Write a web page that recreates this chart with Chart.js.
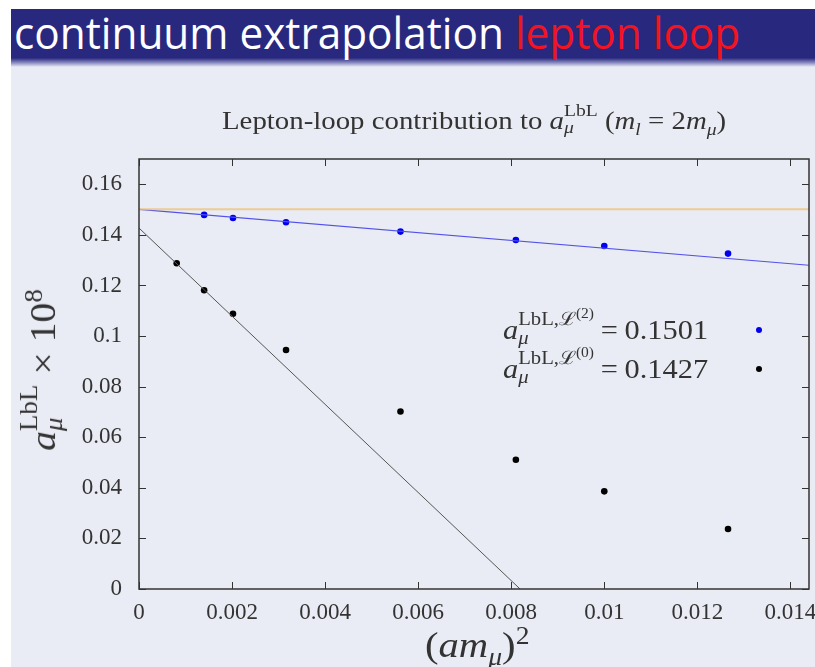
<!DOCTYPE html>
<html>
<head>
<meta charset="utf-8">
<script src="https://cdn.jsdelivr.net/npm/chart.js@4.4.0/dist/chart.umd.min.js"></script>
<style>
body { margin: 0; width: 815px; height: 667px; background: #fff; position: relative; overflow: hidden; }
#page { position: absolute; left: 11px; top: 9px; width: 804px; height: 658px; background: #e9ecf4; }
#bar { position: absolute; left: 11px; top: 9px; width: 804px; height: 58px;
       background: linear-gradient(to bottom, #29287f 0px, #29287f 49px, #8f90c4 54px, #e9ecf4 58px); }
#barText { position: absolute; left: 3px; top: -7px; font-family: "Open Sans", "DejaVu Sans", sans-serif;
           font-size: 44px; color: #fff; white-space: nowrap; transform-origin: 0 0; }
#barText .red { color: #f21420; }
canvas { position: absolute; left: 0; top: 0; }
.tex { position: absolute; font-family: "Liberation Serif", "DejaVu Serif", serif; color: #333; white-space: nowrap; transform-origin: 0 0; }
.ss { display: inline-block; vertical-align: -0.27em; line-height: 1.02; font-size: 0.68em; text-align: left; }
.ss span { display: block; }
.eq { margin: 0 0.22em; }
#ctitle { font-size: 25px; left: 222px; top: 102px; }
#ylab { font-size: 36px; left: 42px; top: 370px; transform-origin: 50% 50%; }
#xlab { font-size: 36px; left: 425px; top: 622px; }
.leg { font-size: 27px; }
.dot { position: absolute; width: 6px; height: 6px; border-radius: 50%; }
</style>
</head>
<body>
<div id="page"></div>
<div id="bar"><div id="barText">continuum extrapolation <span class="red">lepton loop</span></div></div>
<canvas id="chart" width="815" height="667"></canvas>
<div class="tex" id="ctitle">Lepton-loop contribution to <i>a</i><span class="ss"><span>LbL</span><span><i>μ</i></span></span> (<i>m<sub style="font-size:0.68em">l</sub></i> = 2<i>m</i><sub style="font-size:0.68em"><i>μ</i></sub>)</div>
<div class="tex" id="ylab"><i>a</i><span class="ss"><span>LbL</span><span><i>μ</i></span></span> × 10<sup style="font-size:0.68em">8</sup></div>
<div class="tex" id="xlab">(<i>am</i><sub style="font-size:0.68em"><i>μ</i></sub>)<sup style="font-size:0.68em">2</sup></div>
<div class="tex leg" id="leg2" style="left:503px; top:307px;"><i>a</i><span class="ss"><span>LbL,ℒ<sup style="font-size:0.75em">(2)</sup></span><span><i>μ</i></span></span><span class="eq">=</span>0.1501</div>
<div class="tex leg" id="leg0" style="left:503px; top:346px;"><i>a</i><span class="ss"><span>LbL,ℒ<sup style="font-size:0.75em">(0)</sup></span><span><i>μ</i></span></span><span class="eq">=</span>0.1427</div>
<div class="dot" style="left:756px; top:327px; background:#0000ee;"></div>
<div class="dot" style="left:756px; top:366px; background:#000;"></div>

<script>
// tick values
const xTicks = [0, 0.002, 0.004, 0.006, 0.008, 0.01, 0.012, 0.014];
const yTicks = [0, 0.02, 0.04, 0.06, 0.08, 0.1, 0.12, 0.14, 0.16];

// L(2) improved data (blue) and L(0) data (black)
const xL2 = [0.00140, 0.00202, 0.00316, 0.00562, 0.00810, 0.01000, 0.01266];
const yL2 = [0.1479, 0.1467, 0.1450, 0.1413, 0.1380, 0.1356, 0.1326];
const xL0 = [0.00081, 0.00140, 0.00202, 0.00316, 0.00562, 0.00810, 0.01000, 0.01266];
const yL0 = [0.1288, 0.1181, 0.1088, 0.0945, 0.0702, 0.0511, 0.0386, 0.0237];

// fit lines (end points)
const fitL2X = [0, 0.0144];
const fitL2Y = [0.1501, 0.1280];
const fitL0X = [0, 0.00819];
const fitL0Y = [0.1427, 0];
const contX = [0, 0.0144];
const contY = [0.1501, 0.1501];

const toPts = (xs, ys) => xs.map((x, i) => ({ x: x, y: ys[i] }));

// squeeze / stretch text blocks to the widths seen in the slide
function fitWidth(id, w, extra) {
    const el = document.getElementById(id);
    const r = w / el.scrollWidth;
    el.style.transform = (extra || '') + 'scaleX(' + r + ')';
}
fitWidth('barText', 726);
fitWidth('ctitle', 504);
fitWidth('xlab', 105);
fitWidth('leg2', 205);
fitWidth('leg0', 205);
fitWidth('ylab', 162, 'translate(-50%, -50%) rotate(-90deg) ');

// gnuplot-like box with inward ticks
const boxTicks = {
    id: 'boxTicks',
    afterDraw(chart) {
        const { ctx, chartArea: a, scales } = chart;
        ctx.save();
        ctx.strokeStyle = '#333';
        ctx.lineWidth = 1.5;
        ctx.strokeRect(a.left, a.top, a.right - a.left, a.bottom - a.top);
        ctx.lineWidth = 1;
        ctx.beginPath();
        scales.x.ticks.forEach(t => {
            const px = Math.round(scales.x.getPixelForValue(t.value)) + 0.5;
            ctx.moveTo(px, a.bottom); ctx.lineTo(px, a.bottom - 7);
            ctx.moveTo(px, a.top); ctx.lineTo(px, a.top + 7);
        });
        scales.y.ticks.forEach(t => {
            const py = Math.round(scales.y.getPixelForValue(t.value)) + 0.5;
            ctx.moveTo(a.left, py); ctx.lineTo(a.left + 7, py);
            ctx.moveTo(a.right, py); ctx.lineTo(a.right - 7, py);
        });
        ctx.stroke();
        ctx.restore();
    }
};

const tickFont = { family: '"Liberation Serif", "DejaVu Serif", serif', size: 23 };

new Chart(document.getElementById('chart'), {
    type: 'scatter',
    data: {
        datasets: [
            {
                label: 'continuum',
                type: 'line',
                data: toPts(contX, contY),
                borderColor: 'rgba(240, 196, 120, 0.8)',
                borderWidth: 2,
                pointRadius: 0
            },
            {
                label: 'fit L(2)',
                type: 'line',
                data: toPts(fitL2X, fitL2Y),
                borderColor: '#5252ea',
                borderWidth: 1.2,
                pointRadius: 0
            },
            {
                label: 'fit L(0)',
                type: 'line',
                data: toPts(fitL0X, fitL0Y),
                borderColor: '#555',
                borderWidth: 1,
                pointRadius: 0
            },
            {
                label: 'L(2)',
                data: toPts(xL2, yL2),
                backgroundColor: '#0000ee',
                borderWidth: 0,
                pointRadius: 3.3
            },
            {
                label: 'L(0)',
                data: toPts(xL0, yL0),
                backgroundColor: '#000',
                borderWidth: 0,
                pointRadius: 3.3
            }
        ]
    },
    options: {
        responsive: false,
        devicePixelRatio: 1,
        animation: false,
        layout: { padding: { top: 159, right: 6, left: 0, bottom: 0 } },
        plugins: {
            legend: { display: false },
            tooltip: { enabled: false }
        },
        scales: {
            x: {
                type: 'linear',
                min: 0,
                max: 0.0144,
                afterBuildTicks: s => { s.ticks = xTicks.map(v => ({ value: v })); },
                afterFit: s => { s.height = 78; s.paddingLeft = 0; s.paddingRight = 0; },
                grid: { display: false, drawTicks: false },
                border: { display: false },
                ticks: {
                    padding: 10,
                    color: '#333',
                    font: tickFont,
                    maxRotation: 0,
                    autoSkip: false,
                    callback: v => String(+v.toFixed(4))
                }
            },
            y: {
                type: 'linear',
                min: 0,
                max: 0.17,
                afterBuildTicks: s => { s.ticks = yTicks.map(v => ({ value: v })); },
                afterFit: s => { s.width = 139; s.paddingTop = 0; s.paddingBottom = 0; },
                grid: { display: false, drawTicks: false },
                border: { display: false },
                ticks: {
                    padding: 17,
                    color: '#333',
                    font: tickFont,
                    autoSkip: false,
                    callback: v => String(+v.toFixed(4))
                }
            }
        }
    },
    plugins: [boxTicks]
});
</script>
</body>
</html>
